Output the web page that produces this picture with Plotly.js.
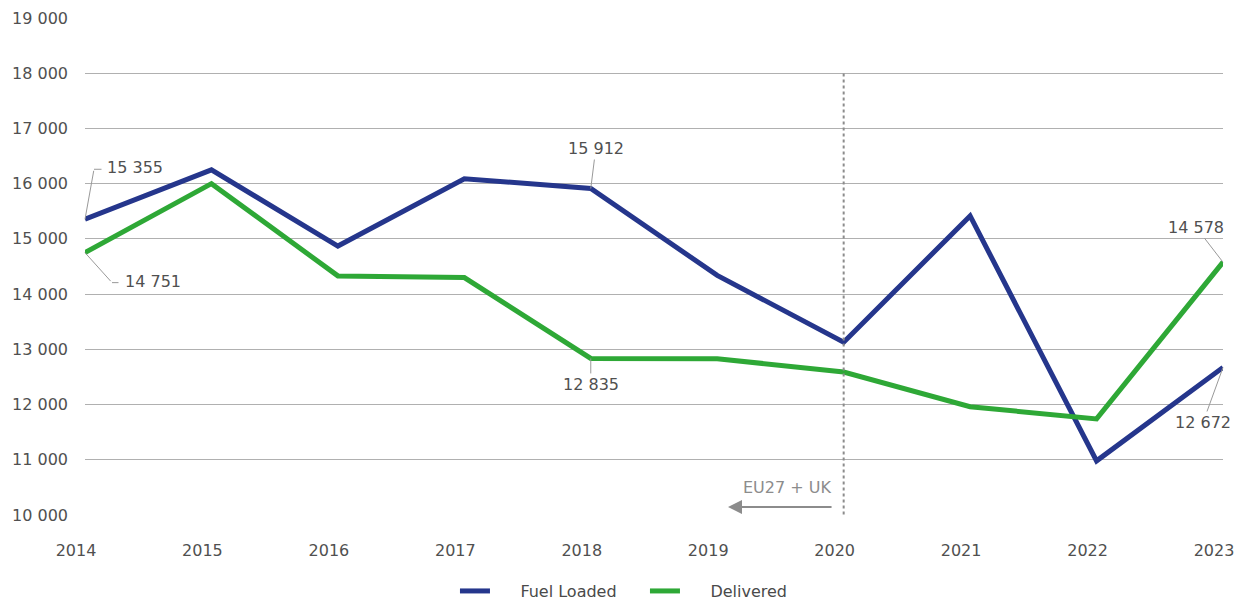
<!DOCTYPE html>
<html><head><meta charset="utf-8">
<script src="https://cdn.plot.ly/plotly-3.0.1.min.js"></script>
<style>html,body{margin:0;padding:0;background:#fff}#c{width:1242px;height:600px}</style>
</head><body><div id="c"></div>
<script>
const years = [2014, 2015, 2016, 2017, 2018, 2019, 2020, 2021, 2022, 2023];
const fuelLoaded = [15355, 16250, 14870, 16090, 15912, 14340, 13130, 15415, 10980, 12672];
const delivered = [14751, 16000, 14330, 14300, 12835, 12830, 12590, 11960, 11740, 14578];
const yTicks = [10000, 11000, 12000, 13000, 14000, 15000, 16000, 17000, 18000, 19000];

const txt = '#505050';
const fam = 'DejaVu Sans, Verdana, sans-serif';
const font = {family: fam, size: 16, color: txt};
const sp = '\u00a0\u00a0\u00a0\u00a0\u00a0';

const traces = [
  {x: years, y: fuelLoaded, name: sp + 'Fuel Loaded', type: 'scatter', mode: 'lines',
   line: {color: '#25368C', width: 5}},
  {x: years, y: delivered, name: sp + 'Delivered', type: 'scatter', mode: 'lines',
   line: {color: '#2EA836', width: 5}}
];

function fmt(v) { return v.toLocaleString('en-US').replace(/,/g, ' '); }

function lab(i, series, ax, ay) {
  return {x: years[i], y: series[i], xref: 'x', yref: 'y',
    text: fmt(series[i]),
    showarrow: true, arrowhead: 0, arrowwidth: 1, arrowcolor: '#999', standoff: 0,
    ax: ax, ay: ay, font: {family: fam, size: 16, color: txt}, borderpad: 1};
}
// leader line segment (no text)
function seg(i, series, xs, ys, ax, ay) {
  return {x: years[i], y: series[i], xref: 'x', yref: 'y', text: '', xshift: xs, yshift: ys,
    showarrow: true, arrowhead: 0, arrowwidth: 1, arrowcolor: '#999', standoff: 0, ax: ax, ay: ay};
}
// label text placed relative to point
function txtLab(i, series, xs, ys) {
  return {x: years[i], y: series[i], xref: 'x', yref: 'y', text: fmt(series[i]), showarrow: false,
    xanchor: 'left', yanchor: 'middle', xshift: xs, yshift: ys, font: {family: fam, size: 16, color: txt}};
}

const annotations = [
  // 2014 labels with elbow leaders
  seg(0, fuelLoaded, 0, 0, 9, -50),
  seg(0, fuelLoaded, 9, 50, 9, 0),
  txtLab(0, fuelLoaded, 20, 52),
  seg(0, delivered, 0, 0, 27, 30),
  seg(0, delivered, 27, -30, 8, 0),
  txtLab(0, delivered, 38, -29),
  lab(4, fuelLoaded, 5, -40),
  lab(4, delivered, 0, 26),
  lab(9, delivered, -27, -35),
  lab(9, fuelLoaded, -20, 55),
  {x: 2019.085, y: 10145, xref: 'x', yref: 'y', ax: 2019.916, ay: 10145, axref: 'x', ayref: 'y',
   text: '', showarrow: true, arrowhead: 2, arrowsize: 1.4, arrowwidth: 2, arrowcolor: '#8c8c8c'},
  {x: 2019.916, y: 10290, xref: 'x', yref: 'y', xanchor: 'right', yanchor: 'bottom', showarrow: false,
   text: 'EU27 + UK', font: {family: fam, size: 16, color: '#8c8c8c'}}
];

const layout = {
  width: 1242, height: 600,
  margin: {l: 85, r: 19, t: 18, b: 85, autoexpand: false},
  paper_bgcolor: '#fff', plot_bgcolor: '#fff',
  font: font,
  separators: ', ',
  showlegend: true,
  legend: {orientation: 'h', x: 0.3251, xanchor: 'left', y: -0.153, yanchor: 'middle',
           entrywidth: 145, entrywidthmode: 'pixels',
           font: {family: fam, size: 16, color: '#4a4a4a'}},
  xaxis: {range: [2014, 2023], tickmode: 'array', tickvals: years, ticktext: years.map(String),
          showgrid: false, zeroline: false, showline: false, ticks: '', ticklabelstandoff: 24,
          ticklabelshift: -9, tickfont: font, fixedrange: true, automargin: false},
  yaxis: {range: [10000, 19000], tickmode: 'array', tickvals: yTicks,
          ticktext: yTicks.map(fmt),
          showgrid: true, gridcolor: '#b0b0b0', gridwidth: 1, zeroline: false, showline: false,
          ticks: '', ticklabelstandoff: 16, tickfont: font, fixedrange: true, automargin: false},
  shapes: [
    {type: 'line', xref: 'x', yref: 'y', x0: 2020, x1: 2020, y0: 9900, y1: 18000,
     line: {color: '#8c8c8c', width: 2, dash: 'dot'}}
  ],
  annotations: annotations
};

Plotly.newPlot('c', traces, layout, {displayModeBar: false, staticPlot: true});
</script></body></html>
